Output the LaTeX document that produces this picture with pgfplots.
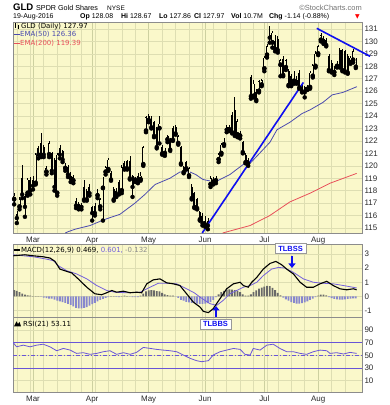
\documentclass[border=0pt]{standalone}
\usepackage{pgfplots}
\pgfplotsset{compat=1.18}
\usepackage{pgfplotstable}
\usepackage{fontspec}
\setmainfont{Liberation Sans}
\newfontfamily\dv{DejaVu Sans}
\usetikzlibrary{arrows.meta}

\definecolor{panelbg}{RGB}{250,248,202}
\definecolor{gridc}{RGB}{222,222,178}
\definecolor{monthc}{RGB}{205,208,160}
\definecolor{emab}{RGB}{75,75,175}
\definecolor{emar}{RGB}{232,80,90}
\definecolor{tl}{RGB}{15,15,240}
\definecolor{sig}{RGB}{115,95,220}
\definecolor{hneg}{RGB}{135,135,205}
\definecolor{hpos}{RGB}{105,105,105}
\definecolor{rsic}{RGB}{105,85,215}
\definecolor{tickc}{RGB}{40,40,40}

\pgfplotstableread{
d O H L C
-7 117.3 117.8 116.9 117.6
-6 116.1 116.4 115.4 115.8
-5 116.7 117.5 116.5 117.3
-4 119.0 120.1 117.4 117.7
-3 117.6 117.7 115.9 116.7
-2 117.8 119.0 117.6 118.9
-1 118.9 119.1 117.7 118.0
0 118.9 119.2 118.1 118.4
1 118.6 121.0 118.5 120.9
2 121.4 121.6 120.6 120.9
3 121.8 122.6 120.7 120.9
4 121.5 121.7 120.7 120.9
5 119.5 120.0 119.3 119.8
6 120.9 122.0 120.7 121.8
7 121.0 121.1 119.4 119.6
8 120.5 120.6 118.0 118.3
9 117.8 121.0 117.6 120.9
10 121.4 121.7 120.6 120.9
11 121.2 121.3 120.3 120.5
12 119.8 120.2 119.6 120.0
13 119.9 120.1 119.1 119.3
14 119.2 119.5 118.7 119.0
15 118.8 119.3 118.6 119.1
16 117.2 117.4 116.6 116.8
17 116.7 117.1 116.5 116.9
18 116.8 117.0 116.5 116.7
19 118.3 118.9 117.2 117.3
20 118.0 118.1 117.2 117.3
21 118.3 118.5 117.6 117.8
22 116.7 116.8 115.6 116.2
23 116.8 117.0 116.0 116.2
24 117.6 118.1 117.4 117.8
25 116.7 117.4 116.5 117.3
26 118.2 119.1 115.6 118.9
27 119.5 120.0 119.3 119.9
28 119.7 120.6 119.6 120.5
29 119.4 119.6 118.8 118.9
30 118.1 118.3 117.2 117.3
31 118.0 118.2 117.5 117.6
32 118.7 118.9 117.7 117.8
33 118.0 120.1 117.8 119.9
34 120.2 120.4 119.7 119.8
35 120.4 120.5 119.7 119.8
36 120.4 120.8 118.9 119.0
37 119.2 119.3 117.5 118.3
38 119.0 119.1 118.7 118.9
39 119.2 119.4 118.6 118.7
40 118.9 119.5 118.8 119.2
41 120.1 121.6 120.0 121.5
42 122.8 124.0 122.7 123.9
43 124.0 124.2 123.5 123.7
44 123.8 124.0 123.0 123.1
45 123.5 123.6 122.3 122.4
46 123.0 123.1 121.4 121.5
47 123.0 124.0 121.8 123.4
48 121.5 121.7 120.9 121.0
49 121.0 121.4 120.8 121.3
50 122.1 122.5 121.9 122.4
51 122.1 122.2 121.2 121.3
52 123.0 123.2 122.0 122.1
53 123.1 123.3 122.5 122.6
54 121.8 122.5 121.7 122.4
55 121.5 121.6 120.1 120.2
56 119.9 120.0 119.4 119.5
57 120.3 120.4 119.7 119.8
58 119.2 119.9 119.1 119.8
59 118.3 118.5 117.3 117.4
60 117.8 117.9 116.6 116.7
61 117.3 117.4 116.5 116.6
62 116.3 116.4 115.6 115.7
63 116.0 116.2 115.2 115.4
64 115.6 116.0 115.1 115.3
65 115.6 115.8 114.9 115.2
66 118.5 119.2 118.3 119.0
67 118.7 119.1 118.5 118.9
68 118.8 119.2 118.6 119.0
69 120.5 121.0 120.3 120.9
70 121.0 121.8 120.9 121.7
71 121.7 122.2 121.6 122.1
72 123.1 123.3 122.7 122.9
73 122.9 123.3 122.8 123.1
74 124.1 124.3 122.6 122.7
75 124.5 125.5 122.4 122.6
76 122.5 123.8 122.3 123.6
77 122.4 122.8 122.2 122.6
78 121.9 122.0 121.0 121.1
79 120.9 121.0 120.2 120.3
80 120.5 120.6 120.0 120.2
81 127.1 127.3 125.4 125.6
82 125.6 126.9 125.5 126.6
83 125.9 126.2 125.2 125.3
84 126.0 126.9 125.9 126.8
85 126.5 127.0 126.4 126.9
86 127.8 128.8 127.6 128.7
87 128.9 129.8 128.7 129.6
88 130.5 131.2 129.9 130.3
89 129.9 130.8 129.5 130.7
90 130.0 130.5 129.2 129.4
91 130.2 130.4 129.1 129.3
92 128.1 128.6 127.2 128.5
93 128.6 128.8 127.2 127.3
94 127.9 128.6 127.7 128.5
95 127.6 127.8 126.4 126.5
96 127.2 127.4 126.4 126.5
97 126.8 127.6 126.6 127.4
98 126.7 127.2 126.6 126.9
99 127.5 127.7 126.2 126.3
100 126.5 126.6 125.9 126.0
101 126.3 126.4 125.5 125.9
102 126.3 126.5 126.1 126.2
103 126.3 127.6 126.2 127.5
104 127.2 128.2 127.1 128.1
105 128.0 129.2 127.9 129.0
106 129.0 129.7 128.9 129.6
107 130.1 130.7 130.0 130.5
108 130.2 130.4 129.8 129.9
109 130.1 130.3 129.6 129.7
110 128.8 129.0 127.6 127.7
111 128.3 128.5 127.5 127.6
112 127.5 128.0 127.3 127.7
113 128.0 128.4 127.9 128.3
114 129.3 129.5 127.9 128.0
115 129.3 129.4 127.6 127.7
116 129.2 129.3 127.5 127.6
117 128.8 129.0 127.4 127.5
118 128.3 128.8 128.2 128.7
119 128.5 129.4 128.3 129.2
120 128.08 128.67 127.86 127.97
}\ohlc

\pgfplotstableread{
d h
-7 0.45
-6 0.40
-5 0.30
-4 0.20
-3 0.12
-2 0.08
-1 0.05
0 0.03
1 0.02
2 0.02
3 -0.02
4 -0.08
5 -0.12
6 -0.15
7 -0.15
8 -0.22
9 -0.30
10 -0.35
11 -0.40
12 -0.45
13 -0.52
14 -0.60
15 -0.70
16 -0.80
17 -0.85
18 -0.85
19 -0.80
20 -0.75
21 -0.65
22 -0.55
23 -0.45
24 -0.35
25 -0.25
26 -0.18
27 -0.10
28 -0.05
29 0.02
30 0.02
31 -0.03
32 -0.05
33 0.02
34 0.05
35 0.03
36 -0.02
37 -0.05
38 -0.04
39 -0.05
40 0.05
41 0.20
42 0.35
43 0.42
44 0.45
45 0.42
46 0.38
47 0.35
48 0.25
49 0.15
50 0.10
51 0.05
52 0.05
53 -0.02
54 -0.10
55 -0.25
56 -0.30
57 -0.38
58 -0.42
59 -0.45
60 -0.48
61 -0.50
62 -0.52
63 -0.52
64 -0.50
65 -0.48
66 -0.40
67 -0.25
68 -0.05
69 0.15
70 0.30
71 0.40
72 0.48
73 0.50
74 0.48
75 0.45
76 0.40
77 0.30
78 0.15
79 0.05
80 0.05
81 0.15
82 0.30
83 0.42
84 0.55
85 0.62
86 0.70
87 0.75
88 0.72
89 0.60
90 0.45
91 0.25
92 0.08
93 -0.08
94 -0.20
95 -0.30
96 -0.40
97 -0.45
98 -0.50
99 -0.50
100 -0.48
101 -0.42
102 -0.35
103 -0.25
104 -0.15
105 -0.05
106 0.05
107 0.12
108 0.12
109 0.08
110 -0.05
111 -0.12
112 -0.18
113 -0.20
114 -0.22
115 -0.22
116 -0.20
117 -0.18
118 -0.15
119 -0.14
120 -0.13
}\hist

\pgfplotsset{
  panel/.style={
    scale only axis, width=349bp, anchor=south west,
    xmin=-7.43, xmax=122.3,
    axis background/.style={fill=panelbg},
    axis line style={draw=black!45, line width=0.5bp},
    xtick={0,22,43,64,86,106},
    minor xtick={-6,-1,4,9,14,18,23,28,33,38,48,53,58,63,67,72,77,82,87,91,96,101,111,116},
    xmajorgrids, xminorgrids, ymajorgrids,
    major x grid style={monthc, line width=0.8bp},
    minor x grid style={gridc, line width=0.5bp},
    major y grid style={gridc, line width=0.5bp},
    major tick length=0pt, minor tick length=0pt,
    yticklabel pos=right,
    ticklabel style={font=\fontsize{8}{9}\selectfont, text=tickc},
    yticklabel style={xshift=-1bp},
    /pgf/number format/assume math mode=true,
  },
  candle/.style 2 args={only marks, mark=none, black,
    error bars/.cd, y dir=plus, y explicit, error mark=none,
    error bar style={line width=#1, solid, draw=#2}},
}

\begin{document}
\begin{tikzpicture}
\useasboundingbox (0,0) rectangle (390bp,405bp);

% ---------------- price panel ----------------
\begin{axis}[panel, at={(13bp,172bp)}, height=211bp,
  ymin=114.6, ymax=131.56, ytick={115,116,...,131},
  xticklabels={Mar,Apr,May,Jun,Jul,Aug}, clip=false]
\addplot[emar, line width=0.8bp] coordinates {(70.5,114.6) (80.7,115.2) (88,116.0) (95.5,117.1) (103,117.8) (110.4,118.6) (120.3,119.39)};
\addplot[emab, line width=0.8bp] coordinates {(12.0,114.6) (13.0,114.7) (15.6,114.9) (21.2,115.2) (26.8,115.7) (32.3,116.1) (37.9,117.0) (41.6,117.7) (45.4,118.5) (50.9,119.0) (54.6,119.5) (58.4,119.5) (60.5,119.3) (63.2,118.9) (67.7,118.7) (73.2,119.3) (78.1,120.1) (80.7,120.2) (84.2,121.0) (88.1,121.9) (90.7,122.9) (95.5,123.5) (100,124.2) (103.0,124.5) (107.8,125.1) (111.2,125.7) (115.2,125.9) (120.4,126.36)};
% wicks
\addplot[candle={0.6bp}{black}] table[x=d, y=L, y error plus expr=\thisrow{H}-\thisrow{L}] {\ohlc};
% bodies
\addplot[candle={2.0bp}{black}] table[x=d, y expr={min(\thisrow{O},\thisrow{C})}, y error plus expr={max(abs(\thisrow{C}-\thisrow{O}),0.06)}] {\ohlc};
% hollow interior for up candles
\addplot[restrict expr to domain={\thisrow{C}-\thisrow{O}}{0.12:100}, candle={1.0bp}{panelbg}]
  table[x=d, y expr=\thisrow{O}+0.045, y error plus expr=\thisrow{C}-\thisrow{O}-0.09] {\ohlc};
% trend lines
\addplot[tl, line width=1.6bp] coordinates {(62.9,114.6) (100.5,126.7)};
\addplot[tl, line width=1.6bp] coordinates {(105.5,131.05) (125.3,128.8)};
\end{axis}

% ---------------- MACD panel ----------------
\begin{axis}[panel, at={(13bp,88bp)}, height=73bp,
  ymin=-1.45, ymax=3.70, ytick={-1,0,1,2,3}, xticklabels={}]
\addplot[ybar, bar width=1.8bp, bar shift=0pt, fill=hpos, draw=none, restrict y to domain=0:5] table[x=d,y=h] {\hist};
\addplot[ybar, bar width=1.8bp, bar shift=0pt, fill=hneg, draw=none, restrict y to domain=-5:0] table[x=d,y=h] {\hist};
\addplot[sig, line width=0.8bp] coordinates {(-7.3,2.94) (-3.6,2.87) (0.1,2.80) (5.1,2.63) (7.6,2.52) (9.4,2.17) (12.5,1.82) (16.2,1.59) (20,1.24) (23.7,0.77) (27.4,0.42) (30.5,0.30) (34.8,0.26) (39.8,0.30) (43.5,0.65) (46.6,0.93) (49.7,0.93) (53.4,0.89) (57.1,0.54) (60,0.25) (62.1,-0.05) (65.8,-0.51) (68.3,-0.63) (70.7,-0.28) (73.2,0.19) (75.7,0.42) (78.2,0.65) (80.7,0.77) (83.2,1.0) (85.6,1.47) (88.7,1.93) (91.2,2.05) (93.7,2.0) (96.8,1.70) (100.5,1.24) (104.2,1.0) (107.9,0.93) (111.6,0.89) (115.4,0.77) (120.3,0.601)};
\addplot[black, line width=1.1bp] coordinates {(-7.3,2.87) (-3,2.94) (0,2.87) (3.8,2.80) (6.3,2.71) (8.2,2.47) (10,1.93) (12.5,1.77) (14.4,1.66) (16.8,1.24) (20,0.65) (23,0.19) (25.5,0.12) (27.4,0.26) (29.3,0.42) (31.1,0.30) (33.6,0.37) (36.1,0.26) (38.5,0.30) (40.4,0.26) (42.3,0.89) (44.7,1.17) (47.2,1.24) (49.7,0.96) (52.2,0.89) (54.6,0.77) (57.1,0.19) (59.6,-0.40) (62.1,-0.75) (63.3,-1.05) (65.2,-1.14) (67.0,-0.86) (69.5,-0.16) (72.0,0.54) (74.5,0.89) (77.0,1.0) (78.2,0.77) (80.0,0.65) (81.3,1.0) (83.2,1.35) (85.6,1.93) (88.1,2.33) (90.3,2.47) (92.4,2.24) (94.3,1.93) (96.8,1.59) (99.3,1.0) (101.7,0.65) (104.2,0.65) (106.7,0.89) (109.2,1.07) (111.6,0.77) (114.1,0.54) (116.6,0.47) (119.1,0.54) (120.3,0.469)};
\end{axis}

% ---------------- RSI panel ----------------
\begin{axis}[panel, at={(13bp,13bp)}, height=75bp,
  ymin=-7.8, ymax=110.5, ytick={10,30,50,70,90},
  xticklabels={Mar,Apr,May,Jun,Jul,Aug}]
\addplot[rsic, line width=1bp] coordinates {(-7.43,70) (122.3,70)};
\addplot[rsic, line width=1bp] coordinates {(-7.43,30) (122.3,30)};
\addplot[rsic, line width=0.8bp, dash pattern=on 4bp off 2bp on 1bp off 2bp] coordinates {(-7.43,50) (122.3,50)};
\addplot[rsic, line width=0.8bp] coordinates {(-7.3,69.7) (-6.1,63.5) (-3.6,66.1) (-1.1,63.5) (1.4,66.1) (3.8,67.6) (6.3,63.5) (8.8,57.3) (11.3,60.9) (13.8,58.3) (16.2,53.1) (18.7,54.2) (21.2,51.6) (23.7,53.1) (26.1,55.7) (28.6,57.3) (31.1,51.6) (33.6,54.2) (36.1,51.6) (38.5,54.7) (41.0,62.5) (43.5,61.0) (46.0,59.4) (48.4,58.3) (50.9,57.3) (53.4,55.7) (55.9,50.5) (58.4,45.3) (60.8,41.6) (62.7,40.0) (65.2,41.6) (67.0,50.5) (69.5,55.7) (72.0,58.3) (74.5,60.9) (77.0,59.4) (78.8,51.6) (80.7,50.5) (81.9,60.9) (84.4,58.3) (86.9,66.1) (89.3,67.6) (91.8,60.9) (94.3,55.7) (96.8,55.7) (99.3,53.1) (101.7,51.6) (104.2,55.7) (106.7,58.3) (109.2,57.3) (110.4,53.1) (112.9,54.2) (115.4,52.1) (117.8,54.7) (120.3,53.11)};
\end{axis}

% ---------------- header ----------------
\node[anchor=base west, inner sep=0] at (13bp,394bp) {\fontsize{9.6}{11}\selectfont\bfseries GLD};
\node[anchor=base west, inner sep=0] at (36bp,394bp) {\fontsize{7.2}{9}\selectfont SPDR Gold Shares};
\node[anchor=base west, inner sep=0] at (107bp,394bp) {\fontsize{6.5}{8}\selectfont NYSE};
\node[anchor=base east, inner sep=0, text=black!55] at (362bp,394bp) {\fontsize{7.5}{9}\selectfont ©StockCharts.com};
\node[anchor=base west, inner sep=0] at (13bp,386bp) {\fontsize{7}{9}\selectfont 19-Aug-2016};
\node[anchor=base west, inner sep=0] at (80bp,386bp) {\fontsize{7}{9}\selectfont\textbf{Op} 128.08};
\node[anchor=base west, inner sep=0] at (121bp,386bp) {\fontsize{7}{9}\selectfont\textbf{Hi} 128.67};
\node[anchor=base west, inner sep=0] at (159bp,386bp) {\fontsize{7}{9}\selectfont\textbf{Lo} 127.86};
\node[anchor=base west, inner sep=0] at (194bp,386bp) {\fontsize{7}{9}\selectfont\textbf{Cl} 127.97};
\node[anchor=base west, inner sep=0] at (231bp,386bp) {\fontsize{7}{9}\selectfont\textbf{Vol} 10.7M};
\node[anchor=base west, inner sep=0] at (269bp,386bp) {\fontsize{7}{9}\selectfont\textbf{Chg} -1.14 (-0.88\%)};
\node[anchor=base west, inner sep=0, text=red] at (355bp,386bp) {\dv\fontsize{6}{7}\selectfont ▼};

% ---------------- panel legends ----------------
\fill[black] (15bp,377bp) rectangle (16.3bp,382bp);
\fill[black] (17.5bp,376bp) rectangle (18.8bp,380bp);
\node[anchor=base west, inner sep=0] at (21bp,376bp) {\dv\fontsize{7}{8}\selectfont GLD (Daily) 127.97};
\draw[emab, line width=1bp] (14bp,370.5bp) -- (19.5bp,370.5bp);
\node[anchor=base west, inner sep=0, text=emab] at (20bp,368bp) {\dv\fontsize{7}{8}\selectfont EMA(50) 126.36};
\draw[emar, line width=1bp] (14bp,361.5bp) -- (19.5bp,361.5bp);
\node[anchor=base west, inner sep=0, text=emar] at (20bp,359bp) {\dv\fontsize{7}{8}\selectfont EMA(200) 119.39};

\draw[black, line width=1.2bp] (14bp,155bp) -- (19.5bp,155bp);
\node[anchor=base west, inner sep=0] at (21bp,152.5bp) {\dv\fontsize{7}{8}\selectfont MACD(12,26,9) 0.469, \textcolor{sig}{0.601,} \textcolor{black!45}{-0.132}};
\fill[black] (14bp,78.5bp) -- (16.5bp,83.5bp) -- (18bp,81bp) -- (19.5bp,83bp) -- (21bp,78.5bp) -- cycle;
\node[anchor=base west, inner sep=0] at (23bp,78.5bp) {\dv\fontsize{7}{8}\selectfont RSI(21) 53.11};

% ---------------- annotations ----------------
\node[draw=black!40, fill=white, inner xsep=3bp, inner ysep=2.5bp, text=tl] at (290.5bp,156.5bp) {\fontsize{7.5}{9}\selectfont\bfseries TLBSS};
\draw[tl, line width=2.6bp, -{Triangle[width=7bp,length=4.5bp]}] (292bp,149bp) -- (292bp,137bp);
\node[draw=black!40, fill=white, inner xsep=3bp, inner ysep=2.5bp, text=tl] at (215.5bp,81bp) {\fontsize{7.5}{9}\selectfont\bfseries TLBBS};
\draw[tl, line width=2.6bp, -{Triangle[width=7bp,length=4.5bp]}] (216bp,88bp) -- (216bp,99bp);
\end{tikzpicture}
\end{document}
